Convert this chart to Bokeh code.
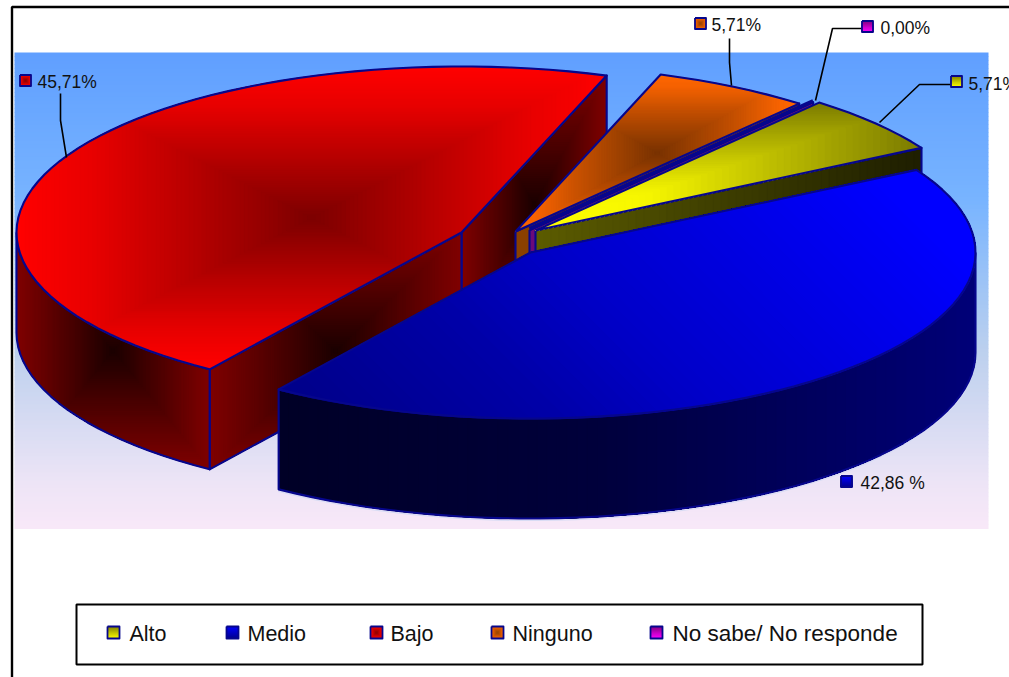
import math

from bokeh.core.properties import value
from bokeh.embed import file_html
from bokeh.models import Range1d
from bokeh.plotting import figure
from bokeh.resources import INLINE

# Survey shares, clockwise from the first slice
categories = ["Alto", "Medio", "Bajo", "Ninguno", "No sabe/ No responde"]
shares = [5.71, 42.86, 45.71, 5.71, 0.00]
label_suffix = ["%", " %", "%", "%", "%"]

# Pie projection (page pixels, y downwards)
RX, RY, DEPTH = 445.0, 166.0, 100.0
START_DEG = -50.4
centres = [(535, 230), (530, 252), (461, 232), (515, 231), (529, 229.5)]

NAVY = "#06068c"
W, H = 1009, 677

p = figure(width=W, height=H, output_backend="svg", toolbar_location=None,
           x_range=Range1d(0, W), y_range=Range1d(H, 0),
           x_axis_type=None, y_axis_type=None, min_border=0,
           outline_line_color=None, background_fill_color="white",
           border_fill_color="white")
p.grid.visible = False


def hex_rgb(c):
    return tuple(int(c[i:i + 2], 16) for i in (1, 3, 5))


def ramp(stops, v):
    """Piecewise-linear colour lookup over (position, colour) stops."""
    if v <= stops[0][0]:
        return stops[0][1]
    for (a, ca), (b, cb) in zip(stops, stops[1:]):
        if v <= b:
            f = (v - a) / (b - a)
            x, y = hex_rgb(ca), hex_rgb(cb)
            return "#%02x%02x%02x" % tuple(round(i + (j - i) * f) for i, j in zip(x, y))
    return stops[-1][1]


def clip_above(poly, d, level):
    """Keep the part of a polygon whose projection on d is at least level."""
    out = []
    for i, a in enumerate(poly):
        b = poly[(i + 1) % len(poly)]
        pa = a[0] * d[0] + a[1] * d[1] - level
        pb = b[0] * d[0] + b[1] * d[1] - level
        if pa >= 0:
            out.append(a)
        if (pa >= 0) != (pb >= 0):
            f = pa / (pa - pb)
            out.append((a[0] + (b[0] - a[0]) * f, a[1] + (b[1] - a[1]) * f))
    return out


def draw_patches(polys, colors):
    p.patches([[q[0] for q in s] for s in polys], [[q[1] for q in s] for s in polys],
              fill_color=colors, line_color=colors, line_width=0.4)


def outline(poly, width=2.1, color=NAVY):
    xs = [q[0] for q in poly] + [poly[0][0]]
    ys = [q[1] for q in poly] + [poly[0][1]]
    p.line(xs, ys, line_color=color, line_width=width, line_join="round")


def linear_fill(poly, d, stops, n=60):
    """Linear gradient along direction d, painted as nested half-plane clips."""
    proj = [q[0] * d[0] + q[1] * d[1] for q in poly]
    lo, hi = min(proj), max(proj)
    polys, colors = [], []
    for k in range(n):
        lev = lo + (hi - lo) * k / n
        part = clip_above(poly, d, lev) if k else poly
        if len(part) >= 3:
            polys.append(part)
            colors.append(ramp(stops, lev + (hi - lo) / (2 * n)))
    draw_patches(polys, colors)


def rect_fill(poly, stops, focus=None, n=56):
    """Rectangular path gradient: nested boxes around a focus, outermost first."""
    xs = [q[0] for q in poly]
    ys = [q[1] for q in poly]
    x0, x1, y0, y1 = min(xs), max(xs), min(ys), max(ys)
    fx, fy = focus if focus else ((x0 + x1) / 2, (y0 + y1) / 2)
    polys, colors = [], []
    for k in range(n):
        s = 1 - k / n
        part = poly
        for d, lev in (((1, 0), fx - (fx - x0) * s), ((-1, 0), -(fx + (x1 - fx) * s)),
                       ((0, 1), fy - (fy - y0) * s), ((0, -1), -(fy + (y1 - fy) * s))):
            if len(part) >= 3:
                part = clip_above(part, d, lev)
        if len(part) >= 3:
            polys.append(part)
            colors.append(ramp(stops, s))
    draw_patches(polys, colors)


def rim(c, a, dz=0.0):
    t = math.radians(a)
    return (c[0] + RX * math.cos(t), c[1] + RY * math.sin(t) + dz)


def arc(c, a0, a1, dz=0.0, step=2.5):
    n = max(1, int(abs(a1 - a0) / step))
    return [rim(c, a0 + (a1 - a0) * i / n, dz) for i in range(n + 1)]


def wall(c, a0, a1):
    return arc(c, a0, a1) + arc(c, a1, a0, DEPTH)


def cut_face(c, a):
    e = rim(c, a)
    return [c, e, (e[0], e[1] + DEPTH), (c[0], c[1] + DEPTH)]


def sector(c, a0, a1):
    return [c] + arc(c, a0, a1)


# Slice angles from the shares
total = sum(shares)
angles, run = [], START_DEG
for s in shares:
    angles.append((run, run + s * 360.0 / total))
    run = angles[-1][1]
(al0, al1), (me0, me1), (ba0, ba1), (ni0, ni1), (ns0, ns1) = angles
c_al, c_me, c_ba, c_ni, c_ns = centres

# Plot background and frame
bg_stops = [(52, "#609fff"), (200, "#78b4ff"), (350, "#bcd0ee"), (480, "#ece4f6"), (528, "#f9e8f8")]
ys = list(range(52, 528, 4))
p.quad(left=14, right=988, top=ys, bottom=[y + 4.4 for y in ys],
       fill_color=[ramp(bg_stops, y + 2) for y in ys], line_color=None)
p.line([1012, 11.5, 11.5], [6.5, 6.5, 680], line_color="black", line_width=2.4)

# Bajo: cut faces, rim wall, top
wall_red = [(0, "#1a0000"), (0.35, "#400000"), (1, "#800000")]
f = cut_face(c_ba, ba1)
rect_fill(f, wall_red)
outline(f)
f = cut_face(c_ba, ba0)
rect_fill(f, wall_red)
outline(f)
f = wall(c_ba, 180, ba0)
rect_fill(f, wall_red)
outline(f)
f = sector(c_ba, ba0, ba1)
rect_fill(f, [(0, "#7c0000"), (0.75, "#e80000"), (1, "#ff0000")], n=70)
outline(f)

# Ninguno
f = cut_face(c_ni, ni1)
draw_patches([f], ["#8a4000"])
outline(f)
f = sector(c_ni, ni0, ni1)
rect_fill(f, [(0, "#783200"), (0.55, "#c45000"), (0.85, "#f56200"), (1, "#ff6600")])
outline(f)

# No sabe: a zero share leaves only its cut face
f = cut_face(c_ns, ns0)
draw_patches([f], ["#6a0a7a"])
outline(f)
e = rim(c_ns, ns0)
p.line([c_ns[0], e[0]], [c_ns[1] - 1, e[1] - 1], line_color=NAVY, line_width=4.2)

# Alto
f = cut_face(c_al, al1)
linear_fill(f, (1, 0), [(535, "#5c5c00"), (921, "#1e1e00")], 50)
outline(f)
f = sector(c_al, al0, al1)
rect_fill(f, [(0, "#ffff00"), (0.3, "#f6f600"), (1, "#7c7c00")], focus=c_al)
outline(f)

# Medio
f = wall(c_me, 0, me1)
linear_fill(f, (1, 0), [(276, "#000026"), (600, "#00003c"), (975, "#000078")], 70)
outline(arc(c_me, 1, me1, DEPTH + 2) + arc(c_me, me1, 1, DEPTH + 2), 1.2, "#d8dcf4")
outline(f)
f = sector(c_me, me0, me1)
s2 = math.sqrt(0.5)
linear_fill(f, (s2, -s2), [(-80, "#000088"), (100, "#0000a8"), (212, "#0000c8"), (500, "#0000ff")], 70)
outline(f)


def key(cx, cy, size, kind, colors):
    h = size / 2
    box = [(cx - h, cy - h), (cx + h, cy - h), (cx + h, cy + h), (cx - h, cy + h)]
    if kind == "down":
        linear_fill(box, (0, 1), [(cy - h, colors[0]), (cy + h, colors[1])], 10)
    else:
        rect_fill(box, [(0, colors[0]), (1, colors[1])], n=6)
    outline(box, 1.8)


fills = [("down", ("#808000", "#ffff00")), ("down", ("#0000ff", "#000090")),
         ("path", ("#800000", "#ff0000")), ("path", ("#8a3f00", "#ff6600")),
         ("down", ("#800080", "#ff00ff"))]

# Value labels with their leader lines
label_pos = [(968, 83), (860, 482), (37, 81), (711, 24), (880, 27)]
key_pos = [(956, 81), (846, 481), (25, 80), (700, 23), (867, 26)]
leaders = [
    ([951, 919, 879], [84, 84, 122]),
    None,
    ([60, 60, 66], [93, 120, 157]),
    ([729, 729, 731], [38, 62, 85]),
    ([861, 832, 815], [28, 28, 100]),
]
for lead in leaders:
    if lead:
        p.line(lead[0], lead[1], line_color="black", line_width=1.6)
for i, v in enumerate(shares):
    key(key_pos[i][0], key_pos[i][1], 11, *fills[i])
    txt = ("%.2f" % v).replace(".", ",") + label_suffix[i]
    p.text([label_pos[i][0]], [label_pos[i][1]], text=[txt], text_font=value("Liberation Sans"),
           text_font_size="17.5px", text_color="#111111", text_baseline="middle")

# Legend
p.quad(left=76, right=922, top=604, bottom=664, fill_color="white", line_color="black", line_width=2)
legend_keys = [113, 232, 376, 497, 656]
legend_text = [129, 247, 390, 512, 672]
legend_size = ["21.5px", "21.5px", "21.5px", "21.5px", "22.5px"]
for i, name in enumerate(categories):
    key(legend_keys[i], 632, 12, *fills[i])
    p.text([legend_text[i]], [633], text=[name], text_font=value("Liberation Sans"),
           text_font_size=legend_size[i], text_color="#111111", text_baseline="middle")

open("out.html", "w").write(file_html(p, INLINE))
